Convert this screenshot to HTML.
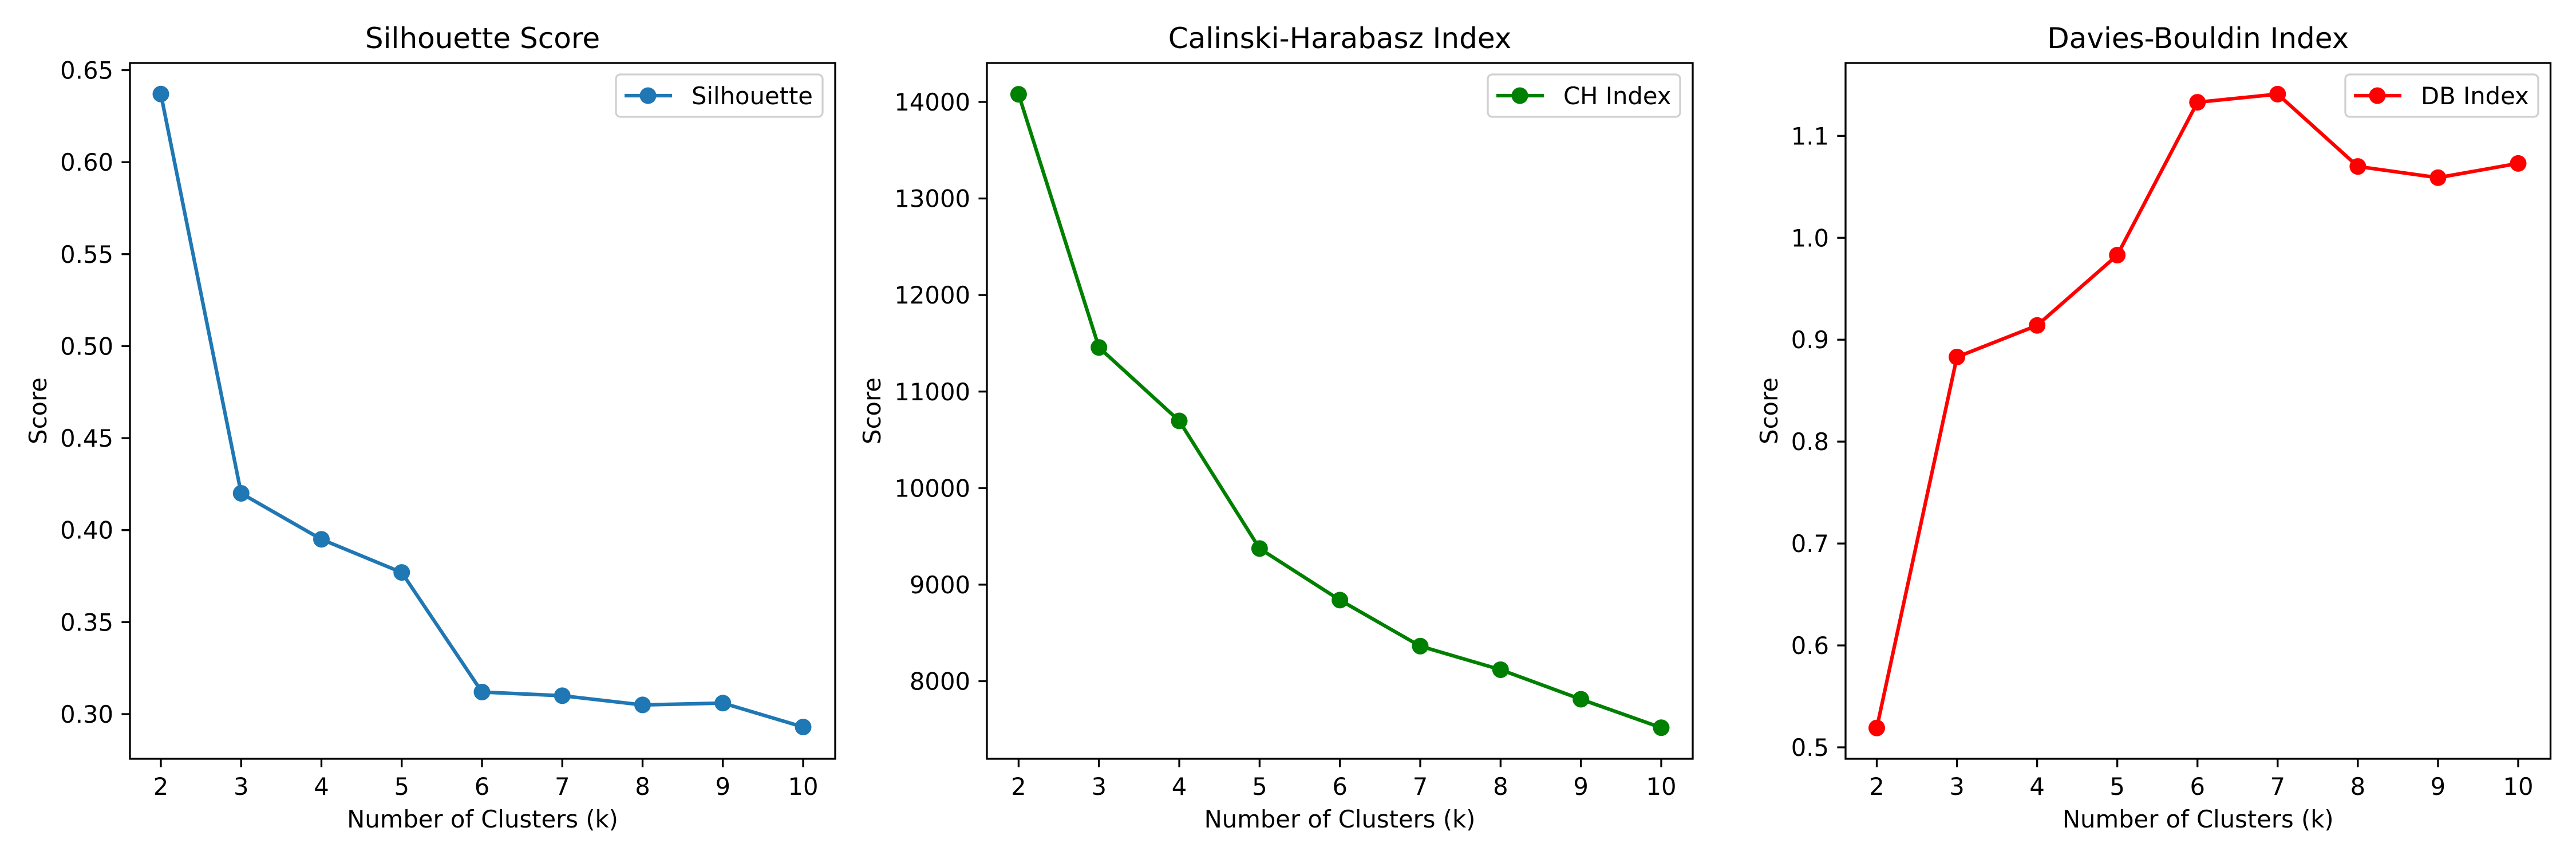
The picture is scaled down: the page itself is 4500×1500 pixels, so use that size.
<!DOCTYPE html>
<html><head><meta charset="utf-8"><style>
html,body{margin:0;padding:0;background:#fff;}
svg{display:block;font-family:"DejaVu Sans","Liberation Sans",sans-serif;}
</style></head><body>
<svg id="fig" width="4500" height="1500" viewBox="0 0 4500 1500" xmlns="http://www.w3.org/2000/svg"></svg>
<script>
const categories = [2,3,4,5,6,7,8,9,10];
const silhouetteValues = [0.637,0.420,0.395,0.377,0.312,0.310,0.305,0.306,0.293];
const chValues = [14079,11457,10696,9374,8840,8363,8119,7813,7518];
const dbValues = [0.519,0.883,0.914,0.983,1.133,1.141,1.070,1.059,1.073];
const silTicks = [0.30,0.35,0.40,0.45,0.50,0.55,0.60,0.65];
const silTickLabels = ["0.30","0.35","0.40","0.45","0.50","0.55","0.60","0.65"];
const chTicks = [8000,9000,10000,11000,12000,13000,14000];
const chTickLabels = ["8000","9000","10000","11000","12000","13000","14000"];
const dbTicks = [0.5,0.6,0.7,0.8,0.9,1.0,1.1];
const dbTickLabels = ["0.5","0.6","0.7","0.8","0.9","1.0","1.1"];

const NS="http://www.w3.org/2000/svg";
const svg=document.getElementById('fig');
function mk(tag,attrs,parent){const e=document.createElementNS(NS,tag);for(const k in attrs)e.setAttribute(k,attrs[k]);(parent||svg).appendChild(e);return e;}

const panels=[
 {key:'silhouette',title:'Silhouette Score',legend:'Silhouette',color:'#1f77b4',vals:silhouetteValues,ticks:silTicks,labels:silTickLabels,
  L:227,R:1459,T:110,B:1325,x2:281,x10:1403,ya:[0.65,122.5],yb:[0.30,1247],ylabX:67,legL:1076,legR:1437},
 {key:'ch',title:'Calinski-Harabasz Index',legend:'CH Index',color:'#008000',vals:chValues,ticks:chTicks,labels:chTickLabels,
  L:1724,R:2957,T:110,B:1325,x2:1779.4,x10:2902,ya:[14000,178],yb:[8000,1189.5],ylabX:1524,legL:2599,legR:2935},
 {key:'db',title:'Davies-Bouldin Index',legend:'DB Index',color:'#ff0000',vals:dbValues,ticks:dbTicks,labels:dbTickLabels,
  L:3224,R:4455.5,T:110,B:1325,x2:3278.5,x10:4399,ya:[1.1,237.3],yb:[0.5,1305],ylabX:3091,legL:4097,legR:4434}
];

panels.forEach(p=>{
  const g=mk('g',{});
  
  
  const xs=v=>p.x2+(v-2)*(p.x10-p.x2)/8;
  const ys=v=>p.ya[1]+(v-p.ya[0])*(p.yb[1]-p.ya[1])/(p.yb[0]-p.ya[0]);
  const t=mk('text',{x:(p.L+p.R)/2,y:84,'text-anchor':'middle','font-size':50,fill:'#000'},g);
  t.textContent=p.title;
  
  
  categories.forEach(c=>{
    const x=xs(c);
    mk('line',{x1:x,x2:x,y1:p.B,y2:p.B+14.6,stroke:'#000','stroke-width':3.3},g);
    const tl=mk('text',{x:x,y:1388,'text-anchor':'middle','font-size':41.7,fill:'#000'},g);
    tl.textContent=String(c);
    
    
  });
  p.ticks.forEach((v,i)=>{
    const y=ys(v);
    mk('line',{x1:p.L-14.6,x2:p.L,y1:y,y2:y,stroke:'#000','stroke-width':3.3},g);
    const tl=mk('text',{x:p.L-29,y:y+15,'text-anchor':'end','font-size':41.7,fill:'#000'},g);
    tl.textContent=p.labels[i];
    
    
  });
  const xl=mk('text',{x:(p.L+p.R)/2,y:1445,'text-anchor':'middle','font-size':41.7,fill:'#000'},g);
  xl.textContent='Number of Clusters (k)';
  
  
  const yl=mk('text',{x:p.ylabX+14,y:(p.T+p.B)/2,'text-anchor':'middle','font-size':41.7,fill:'#000',transform:`rotate(-90 ${p.ylabX+14} ${(p.T+p.B)/2})`},g);
  yl.textContent='Score';
  
  
  const pts=p.vals.map((v,i)=>xs(categories[i])+','+ys(v)).join(' ');
  const pl=mk('polyline',{points:pts,fill:'none',stroke:p.color,'stroke-width':6.25,'stroke-linejoin':'round'},g);
  
  
  p.vals.forEach((v,i)=>{
    const c=mk('circle',{cx:xs(categories[i]),cy:ys(v),r:14.5,fill:p.color},g);
    
    
  });
  mk('rect',{x:p.L,y:p.T,width:p.R-p.L,height:p.B-p.T,fill:'none',stroke:'#000','stroke-width':3.3},g);
  const lg=mk('g',{},g);
  
  
  mk('rect',{x:p.legL,y:130,width:p.legR-p.legL,height:74,rx:8,fill:'#fff','fill-opacity':0.8,stroke:'#d0d0d0','stroke-width':3.3},lg);
  mk('line',{x1:p.legL+15,x2:p.legL+98,y1:167,y2:167,stroke:p.color,'stroke-width':6.25},lg);
  mk('circle',{cx:p.legL+56,cy:167,r:14.5,fill:p.color},lg);
  const lt=mk('text',{x:p.legL+132,y:182,'font-size':41.7,fill:'#000'},lg);
  lt.textContent=p.legend;
  
  
});
</script>
</body></html>
